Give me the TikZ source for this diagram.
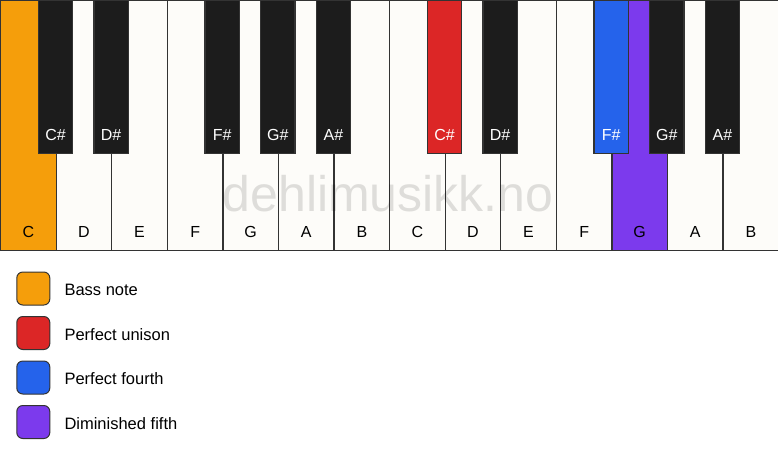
\documentclass[tikz,border=0pt]{standalone}
\usepackage{fontspec}
\setmainfont{Liberation Sans}
\usetikzlibrary{positioning}

\definecolor{keywhite}{HTML}{FDFCF9}
\definecolor{keyblack}{HTML}{1C1C1C}
\definecolor{keyline}{HTML}{333333}
\definecolor{bassnote}{HTML}{F59E0B}
\definecolor{unison}{HTML}{DC2626}
\definecolor{fourth}{HTML}{2563EB}
\definecolor{dimfifth}{HTML}{7C3AED}

\tikzset{
  whitekey/.style={draw=keyline, line width=1.3pt, fill=keywhite, minimum width=55.57pt, minimum height=250pt, anchor=north west, inner sep=0},
  blackkey/.style={draw=keyline, line width=1.3pt, fill=keyblack, minimum width=34.5pt, minimum height=153pt, anchor=north, inner sep=0},
  keyname/.style={font=\fontsize{16}{18}\selectfont, inner sep=0, anchor=base},
  legendbox/.style={draw=keyline, line width=1pt, rounded corners=6pt, minimum size=33pt, inner sep=0},
  legendtext/.style={font=\fontsize{16.5}{18}\selectfont, inner sep=0, yshift=-1.5pt},
}

\begin{document}
\begin{tikzpicture}[x=1pt,y=-1pt]
    \fill[white] (0,0) rectangle (778,461);
    \useasboundingbox (0,0) rectangle (778,461);

    % white keys
    \foreach \name/\col [count=\i from 0] in {C/bassnote,D/keywhite,E/keywhite,F/keywhite,G/keywhite,A/keywhite,B/keywhite,C/keywhite,D/keywhite,E/keywhite,F/keywhite,G/dimfifth,A/keywhite,B/keywhite}{
        \node[whitekey, fill=\col] (w\i) at (\i*55.57,0) {};
        \node[keyname] (lw\i) at ([yshift=14pt]w\i.south) {\name};
    }

    \node[font=\fontsize{50}{60}\selectfont, text=black, text opacity=0.12, inner sep=0, anchor=base] (mark) at (388,211) {dehlimusikk.no};

    % black keys
    \foreach \pos/\name/\col in {1/C/keyblack,2/D/keyblack,4/F/keyblack,5/G/keyblack,6/A/keyblack,8/C/unison,9/D/keyblack,11/F/fourth,12/G/keyblack,13/A/keyblack}{
        \node[blackkey, fill=\col] (b\pos) at (\pos*55.57,0) {};
        \node[keyname, text=white] (lb\pos) at ([yshift=14pt]b\pos.south) {\name\#};
    }

    % legend
    \node[legendbox, fill=bassnote] (box1) at (33.3,288.5) {};
    \node[legendbox, fill=unison, below=10.5pt of box1] (box2) {};
    \node[legendbox, fill=fourth, below=10.5pt of box2] (box3) {};
    \node[legendbox, fill=dimfifth, below=10.5pt of box3] (box4) {};

    \node[legendtext, right=14pt of box1] (txt1) {Bass note};
    \node[legendtext, right=14pt of box2] (txt2) {Perfect unison};
    \node[legendtext, right=14pt of box3] (txt3) {Perfect fourth};
    \node[legendtext, right=14pt of box4] (txt4) {Diminished fifth};

  \end{tikzpicture}
\end{document}
